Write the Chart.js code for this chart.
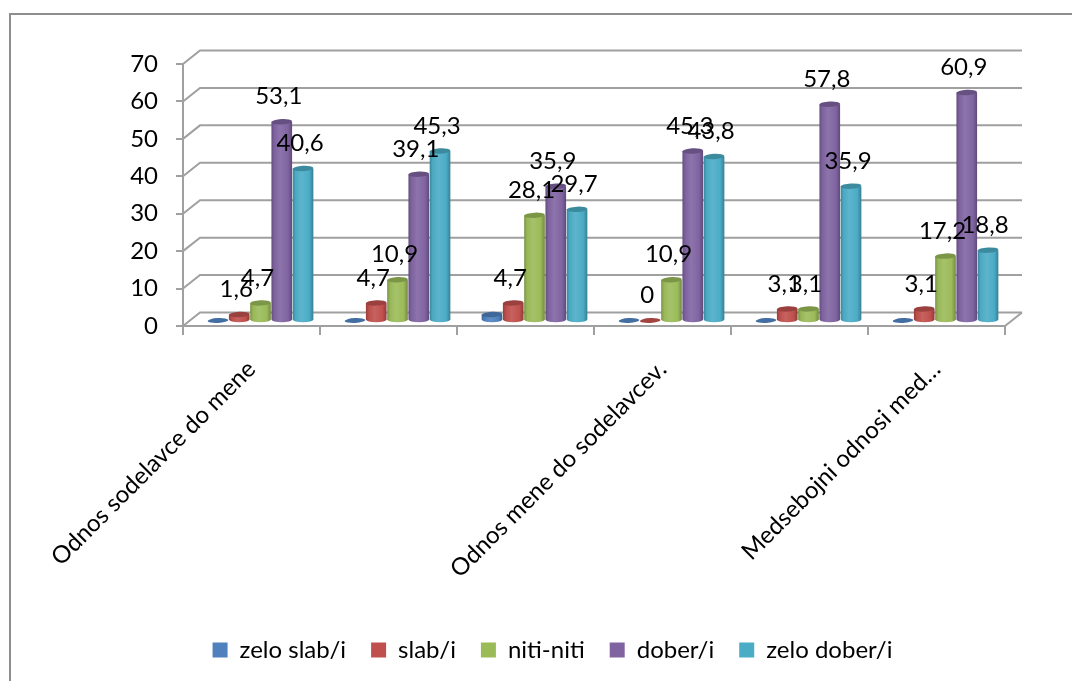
<!DOCTYPE html>
<html>
<head>
<meta charset="utf-8">
<title>Odnosi s sodelavci</title>
<script src="https://cdn.jsdelivr.net/npm/chart.js@4/dist/chart.umd.min.js"></script>
<style>
    body { margin: 0; background: #fff; }
    canvas { display: block; }
</style>
</head>
<body>
<canvas id="relationsChart" width="1072" height="681"></canvas>
<script>
// Categories without a printed label stay as empty strings
const categories = ['Odnos sodelavce do mene', '', '', 'Odnos mene do sodelavcev.', '', 'Medsebojni odnosi med…'];
const seriesNames = ['zelo slab/i', 'slab/i', 'niti-niti', 'dober/i', 'zelo dober/i'];
const zeloSlab = [0, 0, 1.6, 0, 0, 0];
const slab = [1.6, 4.7, 4.7, 0, 3.1, 3.1];
const nitiNiti = [4.7, 10.9, 28.1, 10.9, 3.1, 17.2];
const dober = [53.1, 39.1, 35.9, 45.3, 57.8, 60.9];
const zeloDober = [40.6, 45.3, 29.7, 43.8, 35.9, 18.8];
const seriesColors = ['#4F81BD', '#C0504D', '#9BBB59', '#8064A2', '#4BACC6'];
const axisMax = 70;
const axisStep = 10;

const FONT = 'Lato, Carlito, sans-serif';
const FRAME_GRAY = '#8e8e8e';
const AXIS_GRAY = '#a0a0a0';
const DEPTH_X = 17;   // back wall offset
const DEPTH_Y = 13.5;
const BAR_DX = 9;     // cylinders stand in the middle of the floor
const BAR_DY = -5.5;

function shade(hex, k) {
    const n = parseInt(hex.slice(1), 16);
    const ch = [n >> 16, (n >> 8) & 255, n & 255].map(c => {
        const v = k <= 1 ? c * k : c + (255 - c) * (k - 1);
        return Math.round(v);
    });
    return `rgb(${ch[0]},${ch[1]},${ch[2]})`;
}

// Bars are drawn as cylinders, the geometry still comes from the bar controller
Chart.BarElement.prototype.draw = function (ctx) {
    const { x, y, base, width } = this.getProps(['x', 'y', 'base', 'width']);
    const color = this.options.backgroundColor;
    const cx = x + BAR_DX;
    const top = y + BAR_DY;
    const bottom = base + BAR_DY;
    const rx = width / 2 - 0.3;
    const ry = 2.7;
    const tilt = -0.05;

    ctx.save();
    if (bottom - top < 0.5) {
        ctx.fillStyle = shade(color, 0.85);
        ctx.beginPath();
        ctx.ellipse(cx, bottom, rx, ry - 0.3, tilt, 0, Math.PI * 2);
        ctx.fill();
        ctx.restore();
        return;
    }
    const grad = ctx.createLinearGradient(cx - rx, 0, cx + rx, 0);
    grad.addColorStop(0, shade(color, 0.78));
    grad.addColorStop(0.14, shade(color, 0.98));
    grad.addColorStop(0.42, shade(color, 1.1));
    grad.addColorStop(0.8, color);
    grad.addColorStop(1, shade(color, 0.74));
    ctx.fillStyle = grad;
    ctx.beginPath();
    ctx.moveTo(cx - rx, top);
    ctx.lineTo(cx - rx, bottom);
    ctx.ellipse(cx, bottom, rx, ry, 0, Math.PI, 0, true);
    ctx.lineTo(cx + rx, top);
    ctx.closePath();
    ctx.fill();

    ctx.fillStyle = shade(color, 0.8);
    ctx.beginPath();
    ctx.ellipse(cx, top, rx, ry, tilt, 0, Math.PI * 2);
    ctx.fill();
    ctx.restore();
};

// Outer frame, back wall and floor of the 3D box
const boxPlugin = {
    id: 'box',
    beforeDatasetsDraw(chart) {
        const { ctx, chartArea: area, scales: { y } } = chart;
        ctx.save();
        ctx.strokeStyle = FRAME_GRAY;
        ctx.lineWidth = 2;

        ctx.beginPath();
        ctx.moveTo(10, chart.height);
        ctx.lineTo(10, 14);
        ctx.lineTo(chart.width, 14);
        ctx.stroke();

        ctx.strokeStyle = AXIS_GRAY;
        for (let v = 0; v <= axisMax; v += axisStep) {
            const py = y.getPixelForValue(v);
            ctx.beginPath();
            ctx.moveTo(area.left, py);
            ctx.lineTo(area.left + DEPTH_X, py - DEPTH_Y);
            ctx.lineTo(area.right + DEPTH_X, py - DEPTH_Y);
            ctx.stroke();
        }
        const floorY = y.getPixelForValue(0);
        ctx.beginPath();
        ctx.moveTo(area.right, floorY);
        ctx.lineTo(area.right + DEPTH_X, floorY - DEPTH_Y);
        ctx.stroke();
        ctx.restore();
    }
};

// Value labels above the cylinders, with a decimal comma
const valueLabelPlugin = {
    id: 'valueLabels',
    afterDatasetsDraw(chart) {
        const { ctx } = chart;
        ctx.save();
        ctx.font = `24px ${FONT}`;
        ctx.fillStyle = '#000';
        ctx.textAlign = 'center';
        ctx.textBaseline = 'middle';
        chart.data.datasets.forEach((ds, i) => {
            if (ds.hideValues) return;
            chart.getDatasetMeta(i).data.forEach((bar, j) => {
                const text = String(ds.data[j]).replace('.', ',');
                ctx.fillText(text, bar.x + BAR_DX - 3, bar.y + BAR_DY - 25);
            });
        });
        ctx.restore();
    }
};

// The legend sits centred under the whole page, not under the plot area
const legendShiftPlugin = {
    id: 'legendShift',
    afterLayout(chart) {
        chart.legend.left += 50;
        chart.legend.right += 50;
        chart.legend.top -= 9;
        chart.legend.bottom -= 9;
    }
};

const seriesValues = [zeloSlab, slab, nitiNiti, dober, zeloDober];

new Chart(document.getElementById('relationsChart'), {
    type: 'bar',
    data: {
        labels: categories,
        datasets: seriesNames.map((name, i) => ({
            label: name,
            data: seriesValues[i],
            backgroundColor: seriesColors[i],
            hideValues: i === 0,
            clip: false,
            barPercentage: 1,
            categoryPercentage: 0.776
        }))
    },
    plugins: [boxPlugin, valueLabelPlugin, legendShiftPlugin],
    options: {
        responsive: false,
        animation: false,
        layout: { padding: { top: 64, right: 67, left: 0, bottom: 0 } },
        plugins: {
            tooltip: { enabled: false },
            legend: {
                position: 'bottom',
                labels: {
                    boxWidth: 15,
                    boxHeight: 15,
                    padding: 25,
                    color: '#000',
                    font: { family: FONT, size: 24 }
                }
            }
        },
        scales: {
            x: {
                afterFit: s => { s.height = 296; },
                border: { color: AXIS_GRAY, width: 2 },
                grid: { offset: true, drawOnChartArea: false, color: AXIS_GRAY, lineWidth: 2, tickLength: 9 },
                ticks: {
                    autoSkip: false,
                    minRotation: 45,
                    maxRotation: 45,
                    padding: 20,
                    color: '#000',
                    font: { family: FONT, size: 24 }
                }
            },
            y: {
                min: 0,
                max: axisMax,
                afterFit: s => { s.width = 183; },
                border: { color: AXIS_GRAY, width: 2 },
                grid: { drawOnChartArea: false, color: AXIS_GRAY, lineWidth: 2, tickLength: 7 },
                ticks: {
                    stepSize: axisStep,
                    padding: 18,
                    color: '#000',
                    font: { family: FONT, size: 24 }
                }
            }
        }
    }
});
</script>
</body>
</html>
